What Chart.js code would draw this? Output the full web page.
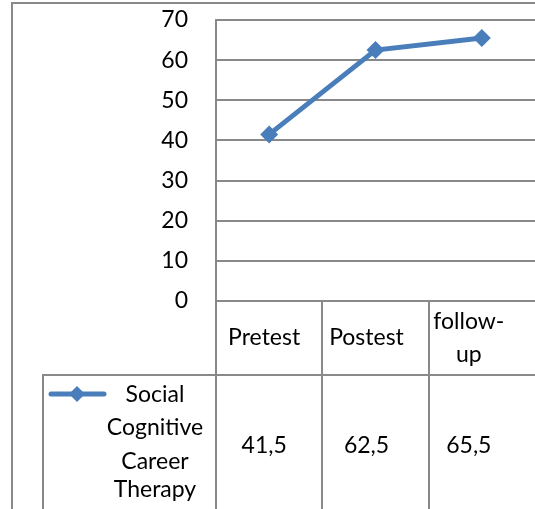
<!DOCTYPE html>
<html>
<head>
<meta charset="utf-8">
<script src="https://cdn.jsdelivr.net/npm/chart.js@4/dist/chart.umd.min.js"></script>
<style>
  html, body { margin: 0; padding: 0; background: #fff; }
  canvas { display: block; }
</style>
</head>
<body>
<canvas id="chart" width="535" height="509"></canvas>
<script>
const categories = ["Pretest", "Postest", "follow-up"];
const categoryLines = [["Pretest"], ["Postest"], ["follow-", "up"]];
const seriesName = ["Social", "Cognitive", "Career", "Therapy"];
const seriesValues = [41.5, 62.5, 65.5];
const valueLabels = ["41,5", "62,5", "65,5"];

const lineColor = "#4A7EBB";
const gridColor = "#898989";
const fontFamily = "Lato, 'Open Sans', sans-serif";

// draws the frame, the data table under the axis and the legend key
const tablePlugin = {
  id: "dataTable",
  afterDraw(chart) {
    const ctx = chart.ctx;
    const area = chart.chartArea;
    const xs = chart.scales.x;
    const H = chart.height;
    const colW = (area.right - area.left) / categories.length;
    const rowTop = area.bottom + 74;

    ctx.save();
    ctx.strokeStyle = gridColor;
    ctx.lineWidth = 2;
    ctx.beginPath();
    // outer chart border
    ctx.moveTo(12, H);
    ctx.lineTo(12, 3);
    ctx.lineTo(chart.width, 3);
    // axis continues down through the table
    ctx.moveTo(area.left, area.bottom);
    ctx.lineTo(area.left, H);
    // column separators
    for (let i = 1; i < categories.length; i++) {
      const x = Math.round(area.left + colW * i);
      ctx.moveTo(x, area.bottom);
      ctx.lineTo(x, H);
    }
    // series row
    ctx.moveTo(43, H);
    ctx.lineTo(43, rowTop);
    ctx.lineTo(area.right, rowTop);
    ctx.stroke();

    ctx.fillStyle = "#000";
    ctx.font = "23px " + fontFamily;
    ctx.textAlign = "center";
    ctx.textBaseline = "middle";
    categories.forEach((c, i) => {
      // text in the original sits a little left of the column centre
      const x = xs.getPixelForValue(i) - 5 - 4 * i;
      const lines = categoryLines[i];
      const mid = area.bottom + 37;
      lines.forEach((t, k) => {
        ctx.fillText(t, x, mid + (k - (lines.length - 1) / 2) * 33);
      });
      ctx.fillText(valueLabels[i], x, rowTop + 71);
    });

    const nameY = [395, 428, 462, 490];
    seriesName.forEach((t, k) => ctx.fillText(t, 155, nameY[k]));

    // legend key
    ctx.strokeStyle = lineColor;
    ctx.lineWidth = 5;
    ctx.lineCap = "round";
    ctx.beginPath();
    ctx.moveTo(51, 394);
    ctx.lineTo(104, 394);
    ctx.stroke();
    ctx.fillStyle = lineColor;
    ctx.beginPath();
    ctx.moveTo(77, 386);
    ctx.lineTo(85, 394);
    ctx.lineTo(77, 402);
    ctx.lineTo(69, 394);
    ctx.closePath();
    ctx.fill();
    ctx.restore();
  }
};

new Chart(document.getElementById("chart"), {
  type: "line",
  data: {
    labels: categories,
    datasets: [{
      label: seriesName.join(" "),
      data: seriesValues,
      borderColor: lineColor,
      backgroundColor: lineColor,
      borderWidth: 5,
      pointStyle: "rectRot",
      pointRadius: 9,
      pointBorderWidth: 0,
      pointBackgroundColor: lineColor,
      tension: 0,
      clip: false
    }]
  },
  options: {
    responsive: false,
    animation: false,
    layout: { autoPadding: false, padding: { top: 20, bottom: 208, left: 0, right: 0 } },
    plugins: {
      legend: { display: false },
      tooltip: { enabled: false },
      title: { display: false }
    },
    scales: {
      x: {
        display: false,
        offset: true
      },
      y: {
        min: 0,
        max: 70,
        afterFit(scale) {
          scale.width = 216;
          scale.paddingTop = 0;
          scale.paddingBottom = 0;
        },
        ticks: {
          stepSize: 10,
          color: "#000",
          padding: 28,
          font: { family: fontFamily, size: 23 }
        },
        grid: { color: gridColor, lineWidth: 2, drawTicks: false },
        border: { display: true, color: gridColor, width: 2 }
      }
    }
  },
  plugins: [tablePlugin]
});
</script>
</body>
</html>
